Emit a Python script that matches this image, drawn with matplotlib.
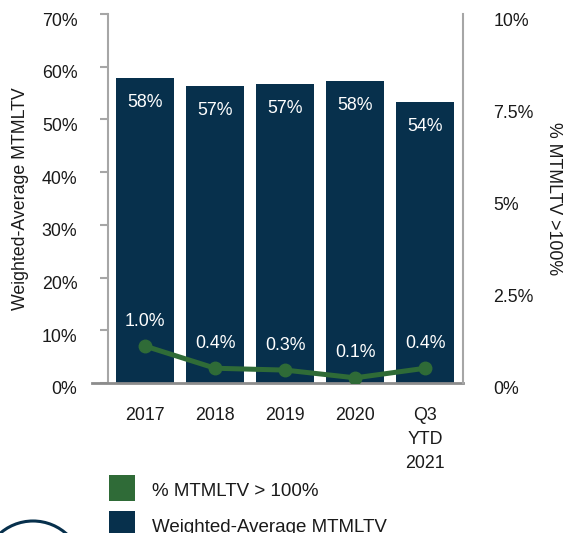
import matplotlib
matplotlib.use("Agg")
import matplotlib.pyplot as plt
import matplotlib.transforms as mtransforms
from matplotlib.lines import Line2D
from matplotlib.patches import Ellipse
import numpy as np

plt.rcParams['font.family'] = ['Liberation Sans', 'DejaVu Sans']

# data
categories = ['2017', '2018', '2019', '2020', 'Q3\nYTD\n2021']
wa_mtmltv = [57.9, 56.4, 56.8, 57.3, 53.4]          # % (left axis)
wa_labels = ['58%', '57%', '57%', '58%', '54%']
over_100 = [1.0, 0.4, 0.35, 0.14, 0.4]             # % (right axis)
over_labels = ['1.0%', '0.4%', '0.3%', '0.1%', '0.4%']
left_ticks = [0, 10, 20, 30, 40, 50, 60, 70]
right_ticks = [0, 2.5, 5, 7.5, 10]
right_ticklabels = ['0%', '2.5%', '5%', '7.5%', '10%']

navy = '#07304c'
green = '#2f6b37'
grey = '#a6a6a6'
txt = '#1a1a1a'
fs = 12.8
W, H = 568, 533

fig = plt.figure(figsize=(W / 100, H / 100), dpi=100)
ax = fig.add_axes([108 / W, 1 - 383 / H, (463 - 108) / W, (383 - 14) / H])
ax2 = ax.twinx()

x = np.arange(len(categories))
ax.bar(x, wa_mtmltv, width=0.83, color=navy, zorder=2)
ax.set_xlim(-0.53, 4.54)
ax.set_ylim(0, 70)
ax.set_yticks(left_ticks)
ax.set_yticklabels([f'{t}%' for t in left_ticks])
ax.set_xticks(x)
ax.set_xticklabels(categories, linespacing=1.55)
ax.set_ylabel('Weighted-Average MTMLTV', fontsize=fs, color=txt, labelpad=9)

for xi, v, lab in zip(x, wa_mtmltv, wa_labels):
    ax.annotate(lab, (xi, v), xytext=(0, -18), textcoords='offset points',
                ha='center', va='center', color='white', fontsize=fs)

ax2.plot(x, over_100, color=green, lw=3.6, marker='o', ms=9, zorder=3)
ax2.set_ylim(0, 10)
ax2.set_yticks(right_ticks)
ax2.set_yticklabels(right_ticklabels)
ax2.set_ylabel('% MTMLTV >100%', fontsize=fs, color=txt, rotation=270,
               labelpad=20)
for xi, v, lab in zip(x, over_100, over_labels):
    ax2.annotate(lab, (xi, v), xytext=(0, 18), textcoords='offset points',
                 ha='center', va='center', color='white', fontsize=fs)

for a in (ax, ax2):
    for s in a.spines.values():
        s.set_visible(False)

ax.spines['left'].set_visible(True)
ax.spines['left'].set_color(grey)
ax.spines['left'].set_linewidth(1.5)
ax2.spines['right'].set_visible(True)
ax2.spines['right'].set_color(grey)
ax2.spines['right'].set_linewidth(1.5)
ax.axhline(0, xmin=-16 / 355, xmax=1, color='#8c8c8c', lw=2, clip_on=False,
           zorder=4)

ax.tick_params(axis='y', length=6, width=1.5, color=grey, pad=16,
               labelsize=fs, labelcolor=txt)
ax.tick_params(axis='x', length=0, pad=17, labelsize=fs, labelcolor=txt)
ax2.tick_params(axis='y', length=0, pad=22, labelsize=fs, labelcolor=txt)

# labels sit a bit below their tick marks in the original
shift = mtransforms.ScaledTranslation(0, -5 / 100, fig.dpi_scale_trans)
for lab in ax.get_yticklabels() + ax2.get_yticklabels():
    lab.set_transform(lab.get_transform() + shift)

# square legend keys, 26 px wide
sq = 26 * 72 / 100
handles = [Line2D([], [], ls='', marker='s', ms=sq, mew=0, color=green,
                  label='% MTMLTV > 100%'),
           Line2D([], [], ls='', marker='s', ms=sq, mew=0, color=navy,
                  label='Weighted-Average MTMLTV')]
fig.legend(handles=handles, loc='upper left',
           bbox_to_anchor=(109 / W, 1 - 479 / H), frameon=False,
           fontsize=13.5, handlelength=1.39, handleheight=1.39,
           handletextpad=0.9, labelspacing=0.78, borderpad=0,
           borderaxespad=0, labelcolor=txt)

# partial logo ring at the bottom-left corner
fig.add_artist(Ellipse((33 / W, 1 - 571 / H), 100 / W, 100 / H,
                       transform=fig.transFigure, fill=False,
                       edgecolor=navy, lw=2.2))

fig.savefig('out.png', dpi=100)
